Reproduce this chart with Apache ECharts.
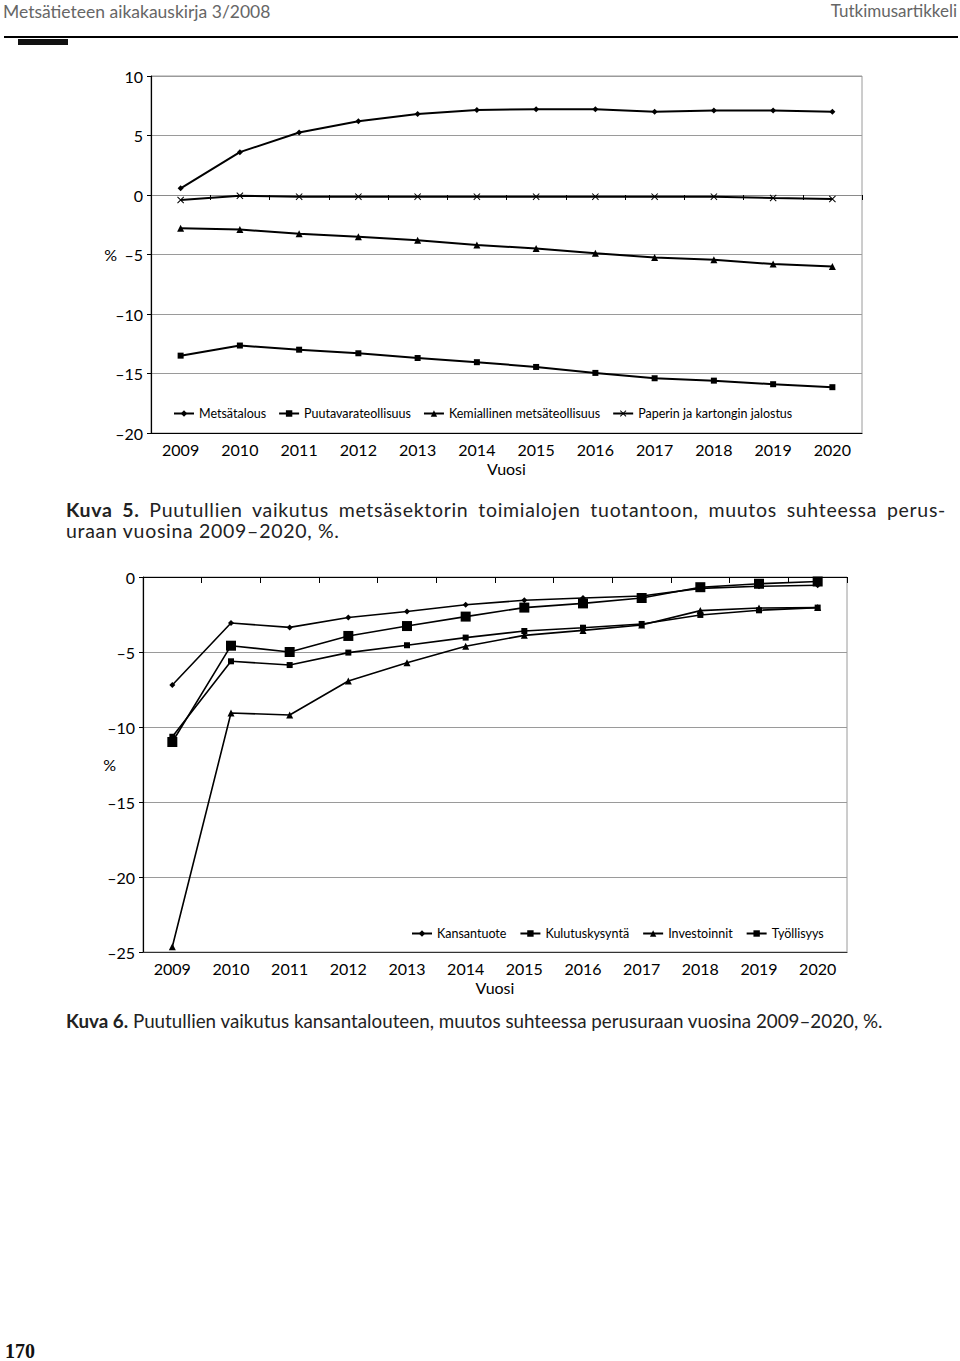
<!DOCTYPE html>
<html lang="fi">
<head>
<meta charset="UTF-8">
<title>Kuva 5 ja Kuva 6</title>
<script src="https://cdn.jsdelivr.net/npm/echarts@6/dist/echarts.min.js"></script>
<style>
  html, body { margin: 0; padding: 0; background: #fff; }
  #page { position: relative; width: 960px; height: 1361px; }
  #main { width: 960px; height: 1361px; }
  .caption { position: absolute; left: 66px; font-family: Lato, "Open Sans", sans-serif; font-size: 18.8px; line-height: 21px; color: #222; white-space: nowrap; }
  .caption b { font-weight: bold; }
  .wide { font-size: 19.5px; line-height: 20px; letter-spacing: 0.7px; }
  .just { width: 880px; text-align: justify; text-align-last: justify; }
</style>
</head>
<body>
<div id="page">
  <div id="main"></div>
  <div class="caption wide just" style="top: 500px;"><b>Kuva 5.</b> Puutullien vaikutus metsäsektorin toimialojen tuotantoon, muutos suhteessa perus-</div>
  <div class="caption wide" style="top: 521px;">uraan vuosina 2009–2020, %.</div>
  <div class="caption" style="top: 1010px;"><b>Kuva 6.</b> Puutullien vaikutus kansantalouteen, muutos suhteessa perusuraan vuosina 2009–2020, %.</div>
</div>
<script>
// vuodet
var years = ['2009', '2010', '2011', '2012', '2013', '2014', '2015', '2016', '2017', '2018', '2019', '2020'];

// Kuva 5: toimialojen tuotanto, muutos %
var metsatalous = [0.56, 3.6, 5.25, 6.2, 6.8, 7.15, 7.2, 7.2, 7.0, 7.1, 7.1, 7.0];
var puutavara = [-13.5, -12.65, -13.0, -13.3, -13.7, -14.05, -14.45, -14.95, -15.4, -15.6, -15.9, -16.15];
var kemiallinen = [-2.8, -2.9, -3.25, -3.5, -3.8, -4.2, -4.5, -4.9, -5.25, -5.45, -5.8, -6.0];
var paperi = [-0.42, -0.06, -0.14, -0.14, -0.14, -0.14, -0.14, -0.14, -0.14, -0.14, -0.25, -0.33];

// Kuva 6: kansantalous, muutos %
var kansantuote = [-7.2, -3.07, -3.36, -2.7, -2.3, -1.85, -1.55, -1.4, -1.27, -0.76, -0.62, -0.55];
var kulutus = [-10.65, -5.62, -5.87, -5.04, -4.55, -4.04, -3.6, -3.38, -3.13, -2.53, -2.22, -2.04];
var investoinnit = [-24.65, -9.07, -9.2, -6.93, -5.71, -4.62, -3.89, -3.56, -3.2, -2.24, -2.07, -2.04];
var tyollisyys = [-11.0, -4.58, -5.0, -3.93, -3.27, -2.64, -2.04, -1.76, -1.4, -0.68, -0.45, -0.3];

var FONT = 'Lato, "Open Sans", sans-serif';
var crossPath = 'path://M1,0L5,4L9,0L10,1L6,5L10,9L9,10L5,6L1,10L0,9L4,5L0,1Z';

function minusLabel(v) {
    return v < 0 ? '\u2013' + Math.abs(v) : String(v);
}

function lineSeries(name, data, symbol, size, xi, yi, w) {
    return {
        name: name,
        type: 'line',
        xAxisIndex: xi,
        yAxisIndex: yi,
        data: data,
        symbol: symbol,
        symbolSize: size,
        showSymbol: true,
        animation: false,
        lineStyle: { color: '#000', width: w },
        itemStyle: { color: '#000' }
    };
}

var yLabel = { color: '#000', fontSize: 16, fontFamily: FONT, margin: 8, formatter: minusLabel };
var xLabel = { color: '#000', fontSize: 16, fontFamily: FONT, margin: 8 };
var gridLine = { show: true, lineStyle: { color: '#9a9a9a', width: 1 } };
var legendText = { color: '#000', fontSize: 12.5, fontFamily: FONT };

var myChart = echarts.init(document.getElementById('main'), null, { renderer: 'svg' });

var option = {
    animation: false,
    backgroundColor: '#fff',
    grid: [
        { left: 151, right: 98, top: 76, height: 357, show: true, borderColor: '#9a9a9a', borderWidth: 1, containLabel: false },
        { left: 143, right: 113, top: 577, height: 375, show: true, borderColor: '#9a9a9a', borderWidth: 1, containLabel: false }
    ],
    xAxis: [
        // kuva 5, alareunan vuodet
        { type: 'category', gridIndex: 0, data: years, position: 'bottom',
          axisLine: { onZero: false, lineStyle: { color: '#000', width: 1.2 } },
          axisTick: { show: false }, axisLabel: xLabel,
          name: 'Vuosi', nameLocation: 'middle', nameGap: 27,
          nameTextStyle: { color: '#000', fontSize: 16, fontFamily: FONT } },
        // kuva 5, nollaviiva jossa jakoviivat
        { type: 'category', gridIndex: 0, data: years, position: 'top',
          axisLine: { onZero: true, lineStyle: { color: '#8a8a8a', width: 1 } },
          axisTick: { show: true, inside: true, length: 5, lineStyle: { color: '#000' } },
          axisLabel: { show: false } },
        // kuva 6, alareunan vuodet
        { type: 'category', gridIndex: 1, data: years, position: 'bottom',
          axisLine: { onZero: false, lineStyle: { color: '#333', width: 1.2 } },
          axisTick: { show: false }, axisLabel: xLabel,
          name: 'Vuosi', nameLocation: 'middle', nameGap: 27,
          nameTextStyle: { color: '#000', fontSize: 16, fontFamily: FONT } },
        // kuva 6, yläreunan nollaviiva
        { type: 'category', gridIndex: 1, data: years, position: 'top',
          axisLine: { onZero: false, lineStyle: { color: '#000', width: 1.2 } },
          axisTick: { show: true, inside: true, length: 6, lineStyle: { color: '#000' } },
          axisLabel: { show: false } }
    ],
    yAxis: [
        { type: 'value', gridIndex: 0, min: -20, max: 10, interval: 5,
          axisLine: { show: true, lineStyle: { color: '#000', width: 1.2 } },
          axisTick: { show: true, length: 4, lineStyle: { color: '#000' } },
          axisLabel: yLabel, splitLine: gridLine,
          name: '%', nameLocation: 'middle', nameRotate: 0, nameGap: 34, nameMoveOverlap: false,
          nameTextStyle: { color: '#000', fontSize: 16, fontFamily: FONT } },
        { type: 'value', gridIndex: 1, min: -25, max: 0, interval: 5,
          axisLine: { show: true, lineStyle: { color: '#000', width: 1.2 } },
          axisTick: { show: true, length: 4, lineStyle: { color: '#000' } },
          axisLabel: yLabel, splitLine: gridLine,
          name: '%', nameLocation: 'middle', nameRotate: 0, nameGap: 27, nameMoveOverlap: false,
          nameTextStyle: { color: '#000', fontSize: 16, fontFamily: FONT } }
    ],
    legend: [
        { left: 168, top: 402, itemWidth: 20, itemHeight: 8, itemGap: 12, textStyle: legendText,
          data: ['Metsätalous', 'Puutavarateollisuus', 'Kemiallinen metsäteollisuus', 'Paperin ja kartongin jalostus'] },
        { left: 406, top: 922, itemWidth: 20, itemHeight: 8, itemGap: 13, textStyle: legendText,
          data: ['Kansantuote', 'Kulutuskysyntä', 'Investoinnit', 'Työllisyys'] }
    ],
    series: [
        lineSeries('Metsätalous', metsatalous, 'diamond', 6, 0, 0, 2),
        lineSeries('Puutavarateollisuus', puutavara, 'rect', 6, 0, 0, 2),
        lineSeries('Kemiallinen metsäteollisuus', kemiallinen, 'triangle', 7, 0, 0, 2),
        lineSeries('Paperin ja kartongin jalostus', paperi, crossPath, 7, 0, 0, 2),
        lineSeries('Kansantuote', kansantuote, 'diamond', 6, 2, 1, 1.6),
        lineSeries('Kulutuskysyntä', kulutus, 'rect', 6, 2, 1, 1.6),
        lineSeries('Investoinnit', investoinnit, 'triangle', 7, 2, 1, 1.6),
        lineSeries('Työllisyys', tyollisyys, 'rect', 10, 2, 1, 1.6)
    ],
    graphic: [
        { type: 'text', left: 3, top: 2, style: { text: 'Metsätieteen aikakauskirja 3/2008', fill: '#666', font: '17.5px ' + FONT } },
        { type: 'text', right: 3, top: 2, style: { text: 'Tutkimusartikkeli', fill: '#666', font: '17px ' + FONT } },
        { type: 'rect', left: 4, top: 36, shape: { width: 954, height: 2 }, style: { fill: '#000' } },
        { type: 'rect', left: 18, top: 39, shape: { width: 50, height: 6 }, style: { fill: '#111' } },
        { type: 'text', left: 5, top: 1341, style: { text: '170', font: 'bold 20px "Liberation Serif", "DejaVu Serif", serif', fill: '#111' } }
    ]
};

myChart.setOption(option);
</script>
</body>
</html>
